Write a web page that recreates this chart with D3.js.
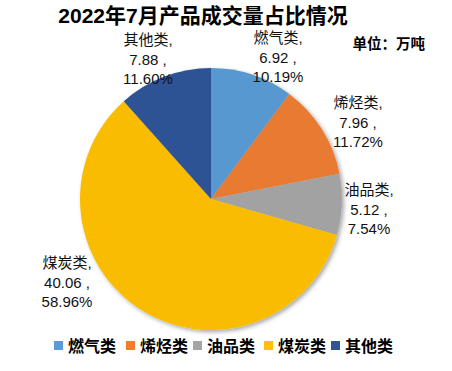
<!DOCTYPE html>
<html>
<head>
<meta charset="utf-8">
<script src="https://cdn.jsdelivr.net/npm/d3@7/dist/d3.min.js"></script>
<style>
  body { margin: 0; background: #fff; }
  text { font-family: "Liberation Sans", "Noto Sans CJK SC", sans-serif; }
</style>
</head>
<body>
<script>
// data
const categories = ['燃气类', '烯烃类', '油品类', '煤炭类', '其他类']
const values = [6.92, 7.96, 5.12, 40.06, 7.88]
const percents = ['10.19%', '11.72%', '7.54%', '58.96%', '11.60%']
const colors = ['#5B9BD5', '#ED7D31', '#A5A5A5', '#FFC000', '#2F5597']

const width = 452, height = 371
const cx = 211, cy = 199, radius = 131

// where each data label sits (center x, first line y)
const labelPos = [[278, 38], [358, 103], [369, 190], [67, 263], [148, 40]]

const svg = d3.select('body').append('svg')
    .attr('width', width)
    .attr('height', height)

const defs = svg.append('defs')
const shadow = defs.append('filter').attr('id', 'shadow')
    .attr('x', '-10%').attr('y', '-10%').attr('width', '120%').attr('height', '120%')
shadow.append('feDropShadow')
    .attr('dx', 2).attr('dy', 2).attr('stdDeviation', 2)
    .attr('flood-color', '#000').attr('flood-opacity', 0.35)

// light gradient on every slice
colors.forEach((c, i) => {
    const g = defs.append('radialGradient').attr('id', 'grad' + i)
        .attr('gradientUnits', 'userSpaceOnUse')
        .attr('cx', cx).attr('cy', cy).attr('r', radius)
    g.append('stop').attr('offset', '0%').attr('stop-color', d3.color(c).brighter(0.08))
    g.append('stop').attr('offset', '100%').attr('stop-color', d3.color(c).darker(0.06))
})

// title
svg.append('text')
    .attr('x', 203).attr('y', 23)
    .attr('text-anchor', 'middle')
    .style('font-size', '21px')
    .style('font-weight', 'bold')
    .text('2022年7月产品成交量占比情况')

svg.append('text')
    .attr('x', 425).attr('y', 49)
    .attr('text-anchor', 'end')
    .style('font-size', '14.5px')
    .style('font-weight', 'bold')
    .text('单位：万吨')

// pie
const pie = d3.pie().sort(null).value(d => d)
const arc = d3.arc().innerRadius(0).outerRadius(radius)

const g = svg.append('g')
    .attr('transform', 'translate(' + cx + ',' + cy + ')')

g.append('g').attr('filter', 'url(#shadow)')
    .selectAll('path')
    .data(pie(values))
    .enter()
    .append('path')
    .attr('d', arc)
    .attr('fill', (d, i) => 'url(#grad' + i + ')')

// data labels
const labels = svg.append('g').selectAll('text')
    .data(categories)
    .enter()
    .append('text')
    .attr('text-anchor', 'middle')
    .style('font-size', '15px')
    .attr('fill', '#111')

labels.each(function (d, i) {
    const t = d3.select(this)
    const lines = [d + ',', values[i].toFixed(2) + ' ,', percents[i]]
    lines.forEach((l, j) => {
        t.append('tspan')
            .attr('x', labelPos[i][0])
            .attr('y', labelPos[i][1] + 5 + j * 19.5)
            .text(l)
    })
})

// legend
const legendX = [54, 126, 193, 264, 331]
const legend = svg.append('g').selectAll('g')
    .data(categories)
    .enter()
    .append('g')
    .attr('transform', (d, i) => 'translate(' + legendX[i] + ',346)')

legend.append('rect')
    .attr('x', 0).attr('y', -5)
    .attr('width', 9).attr('height', 9)
    .attr('fill', (d, i) => colors[i])

legend.append('text')
    .attr('x', 14).attr('y', 6)
    .style('font-size', '16px')
    .style('font-weight', 'bold')
    .text(d => d)
</script>
</body>
</html>
